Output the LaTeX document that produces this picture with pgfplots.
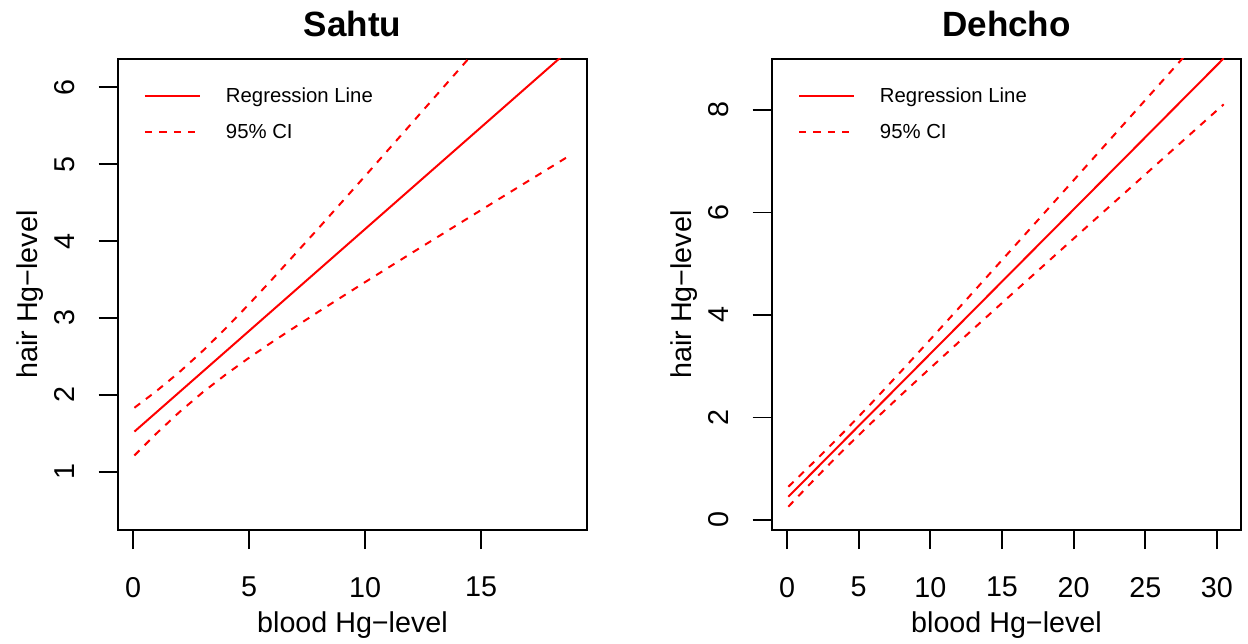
\documentclass[border=0pt]{standalone}
\usepackage{fontspec}
\setmainfont{Liberation Sans}
\usepackage{pgfplots}
\pgfplotsset{compat=1.18}
\usepackage{pgfplotstable}

\pgfplotstableread{
x     fit    up     low
0.06  1.521  1.831  1.211
1     1.770  2.046  1.494
2     2.035  2.295  1.775
3     2.300  2.569  2.031
4     2.565  2.866  2.264
5     2.830  3.179  2.481
6     3.095  3.503  2.687
8     3.625  4.168  3.082
10    4.155  4.845  3.465
12    4.685  5.528  3.842
14    5.215  6.214  4.216
16    5.745  6.902  4.589
18.8  6.487  7.866  5.108
}\sahtu

\pgfplotstableread{
x     fit    up     low
0.09  0.454  0.649  0.260
2     0.992  1.165  0.819
4     1.555  1.726  1.384
6     2.118  2.311  1.925
8     2.681  2.912  2.450
10    3.244  3.523  2.965
12    3.807  4.139  3.475
15    4.652  5.071  4.234
18    5.496  6.004  4.988
21    6.341  6.941  5.741
24    7.185  7.879  6.491
27    8.030  8.818  7.242
30.47 9.006  9.903  8.109
}\dehcho

\definecolor{rred}{RGB}{255,0,0}

\pgfplotsset{
  rstyle/.style={
    scale only axis, width=234.8bp, height=235.5bp,
    axis line style={line width=0.9bp},
    every tick/.style={black, line width=0.9bp},
    major tick length=9.5bp,
    tick align=outside,
    xtick pos=left, ytick pos=left,
    minor tick num=0,
    /pgf/number format/assume math mode=true,
    tick label style={font=\fontsize{14.4}{16}\selectfont},
    yticklabel style={rotate=90, anchor=base, inner sep=0pt},
    xticklabel style={anchor=north, inner sep=0pt},
    yticklabel shift=12bp,
    xticklabel shift=13.8bp,
    label style={font=\fontsize{14.4}{16}\selectfont, inner sep=0pt},
    every axis title shift=0pt,
    title style={font=\bfseries\fontsize{17.6}{20}\selectfont, at={(0.5,1.0488)}, anchor=base, inner sep=0pt},
    x label style={at={(axis description cs:0.5,-0.1735)}, anchor=north},
    y label style={at={(axis description cs:-0.1718,0.5)}, anchor=base},
    legend cell align=left,
    legend style={at={(0.056,0.947)}, anchor=north west, draw=none, fill=none,
      inner sep=0pt, outer sep=0pt, font=\fontsize{10.2}{12}\selectfont,
      row sep={17.85bp,between origins}, column sep=10.5bp,
      cells={anchor=base west}},
    legend image code/.code={\draw[#1] (0bp,3.4bp) -- (27.5bp,3.4bp);},
    fitline/.style={rred, line width=1bp},
    ciline/.style={rred, line width=1bp, dash pattern=on 3.6bp off 3.6bp},
  }
}

\begin{document}
\begin{tikzpicture}
\begin{axis}[rstyle, at={(58.85bp,57bp)}, anchor=south west,
  xmin=-0.66, xmax=19.58, ymin=0.241, ymax=6.368,
  xtick={0,5,10,15}, ytick={1,2,3,4,5,6},
  title={Sahtu}, xlabel={blood Hg−level}, ylabel={hair Hg−level}]
\addplot[fitline] table[x=x,y=fit]{\sahtu};
\addlegendentry{Regression Line}
\addplot[ciline] table[x=x,y=up]{\sahtu};
\addlegendentry{95\% CI}
\addplot[ciline, forget plot] table[x=x,y=low]{\sahtu};
\end{axis}
\begin{axis}[rstyle, at={(385.85bp,57bp)}, anchor=south west,
  xmin=-1.07, xmax=31.7, ymin=-0.195, ymax=8.994,
  xtick={0,5,10,15,20,25,30}, ytick={0,2,4,6,8},
  title={Dehcho}, xlabel={blood Hg−level}, ylabel={hair Hg−level}]
\addplot[fitline] table[x=x,y=fit]{\dehcho};
\addlegendentry{Regression Line}
\addplot[ciline] table[x=x,y=up]{\dehcho};
\addlegendentry{95\% CI}
\addplot[ciline, forget plot] table[x=x,y=low]{\dehcho};
\end{axis}
\pgfresetboundingbox
\useasboundingbox (0,0) rectangle (624bp,322bp);
\end{tikzpicture}
\end{document}
